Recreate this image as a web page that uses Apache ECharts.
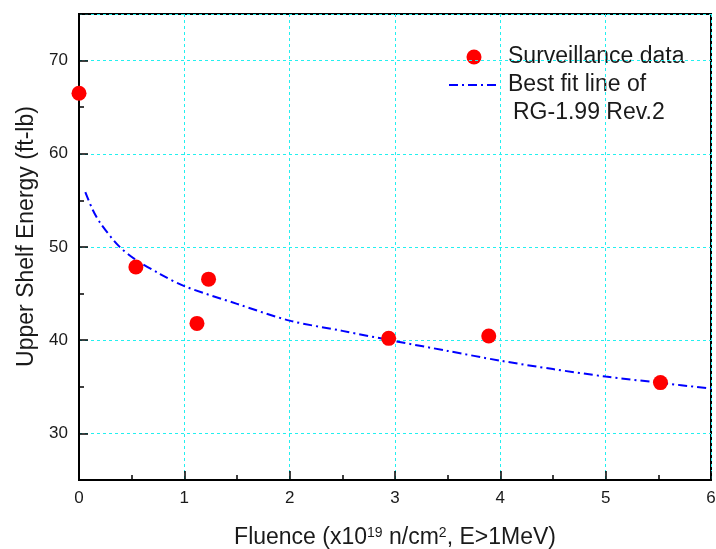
<!DOCTYPE html>
<html>
<head>
<meta charset="utf-8">
<script src="https://cdn.jsdelivr.net/npm/echarts@6/dist/echarts.min.js"></script>
<style>html,body{margin:0;padding:0;background:#fff}#c{width:716px;height:549px}</style>
</head>
<body>
<div id="c"></div>
<script>
// ---- data ----
const xTicks = [0, 1, 2, 3, 4, 5, 6];
const yTicks = [30, 40, 50, 60, 70];
const survX = [0, 0.54, 1.12, 1.23, 2.94, 3.89, 5.52];
const survY = [66.5, 47.85, 41.8, 46.55, 40.2, 40.45, 35.45];
const fitX = [0.06, 0.13, 0.2, 0.37, 0.53, 0.77, 1.0, 1.5, 2.0, 2.5, 3.0, 3.5, 4.0, 4.5, 5.0, 5.5, 6.0];
const fitY = [55.9, 54.0, 52.6, 50.2, 48.7, 47.1, 45.8, 43.9, 42.1, 41.0, 39.9, 38.85, 37.8, 36.9, 36.1, 35.45, 34.8];
const legendNames = ['Surveillance data', 'Best fit line of', 'RG-1.99 Rev.2'];
const xTitle = 'Fluence (x10{sup|19} n/cm{sup|2}, E>1MeV)';
const yTitle = 'Upper Shelf Energy (ft-lb)';

const FONT = '"Liberation Sans", Arial, sans-serif';
const TXT = '#1a1a1a';
const GRIDC = '#22f0f0';
const dashDot = [9, 4, 2, 4];

const chart = echarts.init(document.getElementById('c'), null, {renderer: 'canvas'});
chart.setOption({
  backgroundColor: '#fff',
  animation: false,
  textStyle: {fontFamily: FONT},
  grid: {left: 79, right: 5, top: 14, bottom: 69, show: true, borderColor: '#000', borderWidth: 2,
         containLabel: false, outerBoundsMode: 'none'},
  xAxis: {
    type: 'value', min: xTicks[0], max: xTicks[xTicks.length - 1], interval: 1,
    axisLine: {lineStyle: {color: '#000', width: 2}},
    axisTick: {inside: true, length: 9, lineStyle: {color: '#000', width: 1.5}},
    minorTick: {show: true, splitNumber: 2, length: 5, lineStyle: {color: '#000', width: 1.5}},
    axisLabel: {fontSize: 17, color: TXT, margin: 10, fontFamily: FONT},
    splitLine: {show: true, lineStyle: {color: GRIDC, type: [3, 3], width: 1}},
    name: xTitle, nameLocation: 'middle', nameGap: 46,
    nameTextStyle: {fontSize: 23, color: TXT, fontFamily: FONT,
      rich: {sup: {fontSize: 14, color: TXT, fontFamily: FONT, verticalAlign: 'top'}}}
  },
  yAxis: {
    type: 'value', min: 25, max: 75, splitNumber: 5,
    axisLine: {lineStyle: {color: '#000', width: 2}},
    axisTick: {inside: true, length: 9, lineStyle: {color: '#000', width: 1.5}},
    minorTick: {show: true, splitNumber: 2, length: 5, lineStyle: {color: '#000', width: 1.5}},
    axisLabel: {fontSize: 17, color: TXT, margin: 11, fontFamily: FONT, showMinLabel: false, showMaxLabel: false},
    splitLine: {show: true, lineStyle: {color: GRIDC, type: [3, 3], width: 1}},
    name: yTitle, nameLocation: 'middle', nameGap: 31,
    nameTextStyle: {fontSize: 23, color: TXT, fontFamily: FONT, padding: [0, 0, 0, 21]}
  },
  series: [
    {
      type: 'line', name: legendNames[1] + ' ' + legendNames[2],
      data: fitX.map((x, i) => [x, fitY[i]]),
      showSymbol: false, smooth: 0.3, z: 2,
      lineStyle: {color: '#0000ff', width: 2, type: dashDot}
    },
    {
      type: 'scatter', name: legendNames[0],
      data: survX.map((x, i) => [x, survY[i]]),
      symbol: 'circle', symbolSize: 15, z: 3,
      itemStyle: {color: '#ff0000', opacity: 1}
    }
  ],
  graphic: [
    {type: 'circle', shape: {cx: 474, cy: 57, r: 7.5}, style: {fill: '#ff0000'}},
    {type: 'text', x: 508, y: 57, style: {text: legendNames[0], fontSize: 23, fontFamily: FONT, fill: TXT, verticalAlign: 'middle'}},
    {type: 'line', shape: {x1: 449, y1: 85, x2: 500, y2: 85}, style: {stroke: '#0000ff', lineWidth: 2, lineDash: dashDot}},
    {type: 'text', x: 508, y: 85, style: {text: legendNames[1], fontSize: 23, fontFamily: FONT, fill: TXT, verticalAlign: 'middle'}},
    {type: 'text', x: 513, y: 113, style: {text: legendNames[2], fontSize: 23, fontFamily: FONT, fill: TXT, verticalAlign: 'middle'}}
  ]
});
</script>
</body>
</html>
